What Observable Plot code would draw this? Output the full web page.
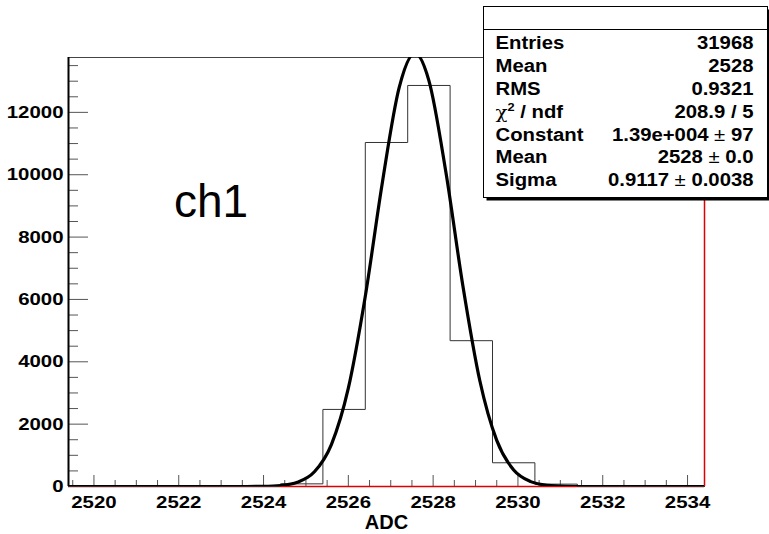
<!DOCTYPE html>
<html>
<head>
<meta charset="utf-8">
<script src="https://cdn.jsdelivr.net/npm/d3@7"></script>
<script src="https://cdn.jsdelivr.net/npm/@observablehq/plot@0.6"></script>
<style>
  html, body { margin: 0; padding: 0; background: white; }
  #wrap { position: relative; width: 769px; height: 534px; overflow: hidden; }
</style>
</head>
<body>
<div id="wrap"></div>
<script>
// ---------- data ----------
const xDomain = [2519.4, 2534.4];
const yDomain = [0, 13760];

// histogram bin edges (width 1 ADC) and counts
const binEdges = [2519.4, 2520.4, 2521.4, 2522.4, 2523.4, 2524.4, 2525.4, 2526.4,
                  2527.4, 2528.4, 2529.4, 2530.4, 2531.4, 2532.4, 2533.4, 2534.4];
const binCounts = [0, 0, 0, 0, 0, 85, 2472, 11034, 12863, 4677, 761, 76, 0, 0, 0];

// fitted gaussian curve
const fitX = [2519.4, 2523.6, 2524.0, 2524.4, 2524.8, 2525.2, 2525.6, 2526.0, 2526.4, 2526.8,
              2527.2, 2527.57, 2527.9, 2528.3, 2528.7, 2529.1, 2529.5, 2529.9, 2530.3, 2530.7,
              2531.1, 2531.6, 2534.4];
const fitY = [0, 0, 5, 33, 138, 473, 1346, 3154, 6103, 9730,
              12801, 13900, 13019, 10087, 6449, 3400, 1479, 530, 157, 38,
              7, 0, 0];

// axis ticks
const xMajorTicks = [2520, 2522, 2524, 2526, 2528, 2530, 2532, 2534];
const xTickLabels = ["2520", "2522", "2524", "2526", "2528", "2530", "2532", "2534"];
const yMajorTicks = [0, 2000, 4000, 6000, 8000, 10000, 12000];
const yTickLabels = ["0", "2000", "4000", "6000", "8000", "10000", "12000"];
const xMinorTicks = d3.range(2519.5, 2534.01, 0.5).filter(v => !xMajorTicks.includes(v));
const yMinorTicks = d3.range(500, 13760, 500).filter(v => !yMajorTicks.includes(v));

// stats box
const statNames = ["Entries", "Mean", "RMS", "χ2 / ndf", "Constant", "Mean", "Sigma"];
const statValues = ["31968", "2528", "0.9321", "208.9 / 5", "1.39e+004 ± 97", "2528 ± 0.0", "0.9117 ± 0.0038"];

const panelLabel = "ch1";
const xTitle = "ADC";

// ---------- derived tables ----------
const hist = binCounts.map((c, i) => ({x: binEdges[i], y: c}));
hist.push({x: binEdges[binEdges.length - 1], y: binCounts[binCounts.length - 1]});
const fit = fitX.map((x, i) => ({x, y: fitY[i]}));

const RED = "#e00000";
const TICK = "#555";

const chart = Plot.plot({
  width: 769,
  height: 534,
  marginLeft: 68,
  marginRight: 65,
  marginTop: 57,
  marginBottom: 48,
  x: {domain: xDomain, label: null},
  y: {domain: yDomain, label: null},
  style: {
    background: "white",
    fontFamily: "'Liberation Sans', Arial, Helvetica, sans-serif",
    color: "black",
    overflow: "visible"
  },
  marks: [
    Plot.frame({stroke: "#444", strokeWidth: 1}),
    // y axis ticks (inward)
    Plot.axisY(yMinorTicks, {tickSize: -10, text: null, stroke: TICK, label: null}),
    Plot.axisY(yMajorTicks, {tickSize: -20, text: null, stroke: TICK, label: null}),
    Plot.axisY(yMajorTicks, {tickSize: 0, tickPadding: 5, label: null,
      tickFormat: d => yTickLabels[yMajorTicks.indexOf(d)],
      fontSize: 17, fontWeight: "bold", fill: "black"}),
    // x axis ticks (inward)
    Plot.axisX(xMinorTicks, {tickSize: -6, text: null, stroke: TICK, label: null}),
    Plot.axisX(xMajorTicks, {tickSize: -11, text: null, stroke: TICK, label: null}),
    Plot.axisX(xMajorTicks, {tickSize: 0, tickPadding: 9, label: null,
      tickFormat: d => xTickLabels[xMajorTicks.indexOf(d)],
      fontSize: 17, fontWeight: "bold", fill: "black"}),
    // left axis line
    Plot.ruleX([xDomain[0]], {stroke: "black", strokeWidth: 2}),
    // red lines along bottom and right
    Plot.ruleY([yDomain[0]], {stroke: RED, strokeWidth: 1.5}),
    Plot.ruleX([xDomain[1]], {stroke: RED, strokeWidth: 1.5}),
    // histogram outline
    Plot.line(hist, {x: "x", y: "y", curve: "step-after", stroke: "#333", strokeWidth: 1}),
    // fitted gaussian
    Plot.line(fit, {x: "x", y: "y", curve: "monotone-x", stroke: "black", strokeWidth: 3.2, clip: true}),
    // annotations
    Plot.text([panelLabel], {frameAnchor: "top-left", textAnchor: "start", lineAnchor: "top",
      dx: 105.5, dy: 127, fontSize: 46, fontWeight: "normal", fill: "black"}),
    Plot.text([xTitle], {frameAnchor: "bottom", lineAnchor: "middle", dy: 36,
      fontSize: 20, fontWeight: "bold", fill: "black"})
  ]
});

const wrap = document.getElementById("wrap");
wrap.append(chart);

function stretch(el, k) {
  const L = el.getComputedTextLength();
  if (L > 0) {
    el.setAttribute("textLength", (L * k).toFixed(2));
    el.setAttribute("lengthAdjust", "spacingAndGlyphs");
  }
}

chart.querySelectorAll("text").forEach(t => {
  const s = t.textContent;
  if (s === panelLabel || s === xTitle) { /* natural width */ }
  else stretch(t, 1.2);
});

// ---------- stats box overlay ----------
const ov = d3.select(wrap).append("svg")
  .attr("width", 769).attr("height", 534)
  .style("position", "absolute").style("left", "0px").style("top", "0px")
  .attr("font-family", "'Liberation Sans', Arial, Helvetica, sans-serif");

const bx = 483.5, by = 6.5, bw = 284, bh = 191;
ov.append("rect").attr("x", bx + 3).attr("y", by + 3).attr("width", bw).attr("height", bh).attr("fill", "black");
ov.append("rect").attr("x", bx).attr("y", by).attr("width", bw).attr("height", bh)
  .attr("fill", "white").attr("stroke", "black").attr("stroke-width", 1);
ov.append("line").attr("x1", bx).attr("x2", bx + bw).attr("y1", 29.5).attr("y2", 29.5)
  .attr("stroke", "black").attr("stroke-width", 1);

const FS = 17.5, K = 1.16;
statNames.forEach((name, i) => {
  const yb = 49.3 + i * 22.8;
  const lt = ov.append("text").attr("x", 495.5).attr("y", yb)
    .attr("font-size", FS).attr("font-weight", "bold").attr("fill", "black");
  if (name.startsWith("χ")) {
    lt.append("tspan").attr("font-weight", "normal").attr("font-family", "'DejaVu Serif', 'Liberation Serif', serif").attr("font-size", 17).text("χ");
    lt.append("tspan").attr("font-size", 11).attr("dy", -7).text("2");
    lt.append("tspan").attr("dy", 7).text(" / ndf");
  } else {
    lt.text(name);
  }
  stretch(lt.node(), K);

  const v = statValues[i];
  const vt = ov.append("text").attr("x", 753.5).attr("y", yb).attr("text-anchor", "end")
    .attr("font-size", FS).attr("font-weight", "bold").attr("fill", "black");
  const parts = v.split("±");
  if (parts.length === 2) {
    vt.append("tspan").text(parts[0]);
    vt.append("tspan").attr("font-weight", "normal").text("±");
    vt.append("tspan").text(parts[1]);
  } else {
    vt.text(v);
  }
  stretch(vt.node(), K);
});
</script>
</body>
</html>
